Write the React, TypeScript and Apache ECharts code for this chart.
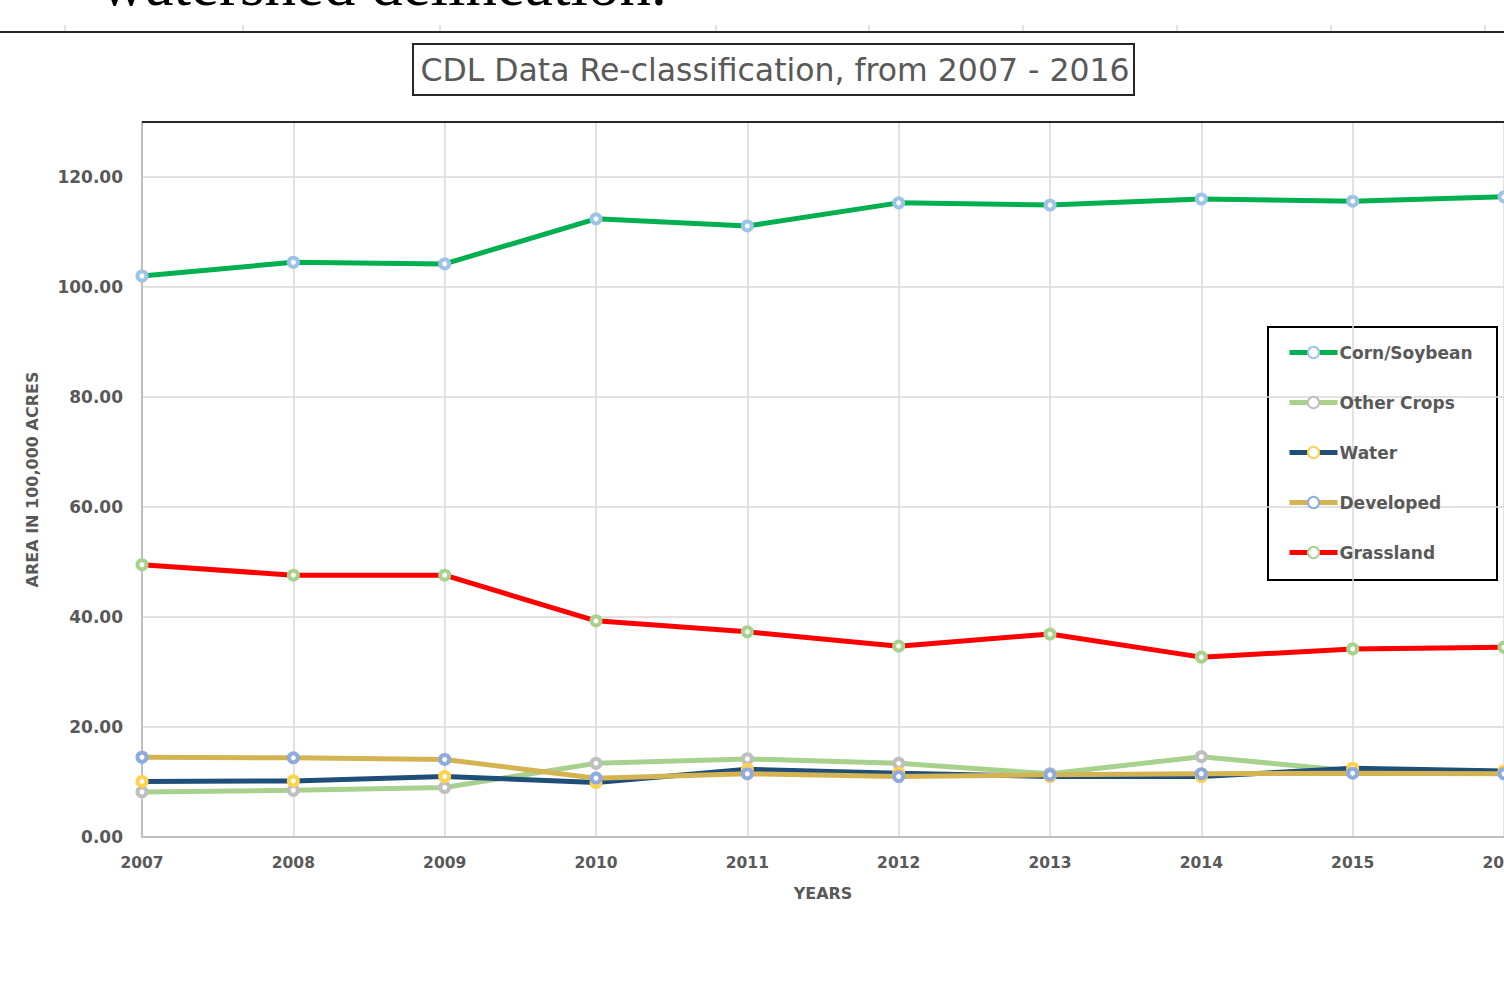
import React, { useEffect, useRef } from 'react';
import * as echarts from 'echarts';

const years = ['2007', '2008', '2009', '2010', '2011', '2012', '2013', '2014', '2015', '2016'];
const seriesNames = ['Corn/Soybean', 'Other Crops', 'Water', 'Developed', 'Grassland'];
const cornSoybean = [102.0, 104.5, 104.2, 112.4, 111.1, 115.3, 114.9, 116.0, 115.6, 116.4];
const otherCrops = [8.2, 8.5, 9.0, 13.4, 14.2, 13.4, 11.5, 14.6, 12.0, 11.6];
const water = [10.1, 10.2, 11.0, 9.9, 12.3, 11.6, 11.0, 11.0, 12.5, 12.0];
const developed = [14.5, 14.4, 14.1, 10.7, 11.5, 11.0, 11.3, 11.5, 11.6, 11.5];
const grassland = [49.5, 47.6, 47.6, 39.3, 37.3, 34.7, 36.9, 32.7, 34.2, 34.5];
const lineColors = ['#00B050', '#A9D18E', '#1F4E79', '#D4B452', '#FF0000'];
const markerColors = ['#9DC3E6', '#BFBFBF', '#FFD24D', '#8FAADC', '#A9D18E'];

const FONT = '"DejaVu Sans"';
const GRAY = '#595959';

export default function App() {
  const ref = useRef<HTMLDivElement>(null);
  useEffect(() => {
    const chart = echarts.init(ref.current!, null, { renderer: 'svg' });
    const values = [cornSoybean, otherCrops, water, developed, grassland];
    const topTicks = [65, 243, 440, 716, 869, 1023, 1177, 1331, 1485];
    chart.setOption({
      animation: false,
      backgroundColor: '#ffffff',
      textStyle: { fontFamily: FONT },
      title: {
        text: 'CDL Data Re-classification, from 2007 - 2016',
        left: 775,
        top: 54,
        textAlign: 'center',
        padding: 0,
        textStyle: { fontFamily: FONT, fontSize: 31.5, fontWeight: 'normal', color: GRAY },
      },
      grid: { left: 142, top: 122, right: 0, bottom: 155, outerBoundsMode: 'none', containLabel: false },
      xAxis: {
        type: 'category',
        data: years,
        boundaryGap: false,
        axisLine: { lineStyle: { color: '#BFBFBF', width: 2 } },
        axisTick: { show: false },
        axisLabel: { color: GRAY, fontSize: 15.5, fontWeight: 'bold', margin: 18, fontFamily: FONT },
        splitLine: { show: true, lineStyle: { color: '#D9D9D9', width: 1.5 } },
        name: 'YEARS',
        nameLocation: 'middle',
        nameGap: 48,
        nameTextStyle: { color: GRAY, fontSize: 16, fontWeight: 'bold', fontFamily: FONT },
      },
      yAxis: {
        type: 'value',
        min: 0,
        max: 130,
        interval: 20,
        axisLine: { show: true, lineStyle: { color: '#BFBFBF', width: 2 } },
        axisTick: { show: false },
        axisLabel: {
          color: GRAY,
          fontSize: 17,
          fontWeight: 'bold',
          margin: 19,
          fontFamily: FONT,
          formatter: (v: number) => (v > 125 ? '' : v.toFixed(2)),
        },
        splitLine: { show: true, lineStyle: { color: '#D9D9D9', width: 1.5 } },
        name: 'AREA IN 100,000 ACRES',
        nameLocation: 'middle',
        nameGap: 102,
        nameRotate: 90,
        nameTextStyle: { color: GRAY, fontSize: 16, fontWeight: 'bold', fontFamily: FONT },
      },
      legend: {
        orient: 'vertical',
        left: 1287,
        top: 344,
        itemWidth: 48,
        itemHeight: 14,
        itemGap: 33,
        padding: 0,
        data: seriesNames,
        lineStyle: { width: 5 },
        textStyle: { color: GRAY, fontSize: 17, fontWeight: 'bold', fontFamily: FONT, padding: [0, 0, 0, -3] },
      },
      graphic: [
        {
          type: 'text',
          x: 100,
          y: -16,
          style: {
            text: 'watershed delineation.',
            font: '63px "Liberation Serif"',
            fill: '#000',
            textVerticalAlign: 'middle',
          },
        },
        { type: 'line', shape: { x1: 0, y1: 32, x2: 1504, y2: 32 }, style: { stroke: '#262626', lineWidth: 2 } },
        ...topTicks.map((x) => ({
          type: 'line',
          shape: { x1: x, y1: 25, x2: x, y2: 31 },
          style: { stroke: '#C8C8C8', lineWidth: 1 },
        })),
        { type: 'rect', shape: { x: 413, y: 44, width: 721, height: 51 }, style: { fill: 'none', stroke: '#262626', lineWidth: 2 } },
        { type: 'line', shape: { x1: 142, y1: 122, x2: 1504, y2: 122 }, style: { stroke: '#262626', lineWidth: 2 }, z: 10 },
        { type: 'rect', shape: { x: 1268, y: 327, width: 229, height: 253 }, style: { fill: 'none', stroke: '#000', lineWidth: 2 } },
      ],
      series: seriesNames.map((name, i) => ({
        name,
        type: 'line',
        data: values[i],
        symbol: 'circle',
        symbolSize: 9,
        showSymbol: true,
        lineStyle: { color: lineColors[i], width: 5 },
        itemStyle: { color: '#ffffff', borderColor: markerColors[i], borderWidth: 4 },
        emphasis: { disabled: true },
      })),
    });
    return () => chart.dispose();
  }, []);
  return (
    <div style={{ position: 'fixed', left: 0, top: 0, width: 1504, height: 992, overflow: 'hidden', background: '#fff' }}>
      <div ref={ref} style={{ width: 1504, height: 992 }} />
    </div>
  );
}
